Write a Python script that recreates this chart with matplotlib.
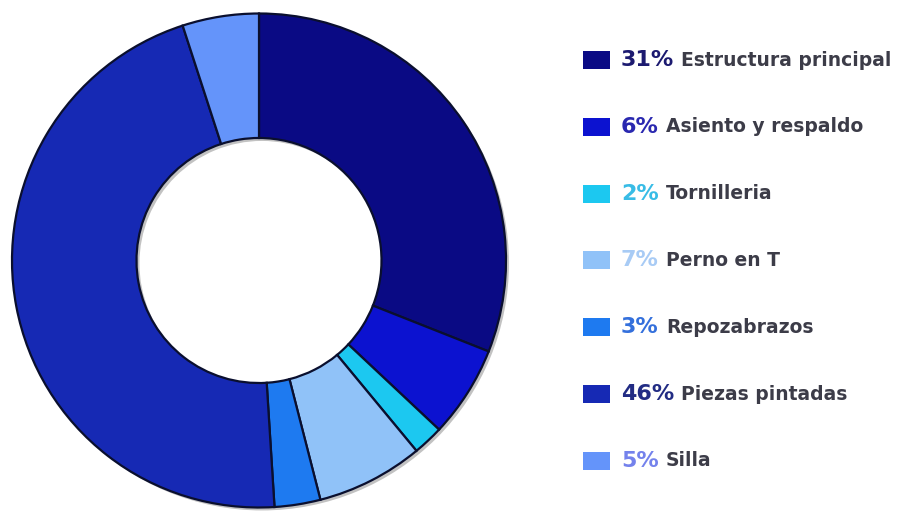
import matplotlib.pyplot as plt
import numpy as np
from matplotlib.patches import Rectangle

# chair component share, clockwise from the top
labels = ['Estructura principal', 'Asiento y respaldo', 'Tornilleria', 'Perno en T',
          'Repozabrazos', 'Piezas pintadas', 'Silla']
shares = [31, 6, 2, 7, 3, 46, 5]
colors = ['#0a0a84', '#0c12d0', '#1cc8f0', '#90c2f8', '#1e7af0', '#1629b4', '#6494fa']
pct_colors = ['#1c1a70', '#2a28b0', '#38bce6', '#a8cbf5', '#3470dc', '#222c84', '#7482ec']

W, H = 899, 514
fig = plt.figure(figsize=(W / 100, H / 100), dpi=100)
fig.patch.set_facecolor('white')

R = 247
ax = fig.add_axes([(259 - R) / W, (H - 260.5 - R) / H, 2 * R / W, 2 * R / H])
# soft grey shadow ring behind the donut
sh = ax.pie([1], radius=1.0, colors=['#9a9a9a'], startangle=90,
            wedgeprops=dict(width=0.504, linewidth=0), center=(0.012, -0.012))
for w in sh[0]:
    w.set_alpha(0.6)
ax.pie(shares, radius=1.0, colors=colors, startangle=90, counterclock=False,
       wedgeprops=dict(width=0.504, edgecolor='#0a0f2e', linewidth=1.6))
ax.set_xlim(-1.0, 1.0)
ax.set_ylim(-1.0, 1.0)
ax.set_aspect('equal')
ax.axis('off')

# legend drawn by hand: square, coloured percentage, grey label
y0, dy = 60, 66.8
for i, (lab, val) in enumerate(zip(labels, shares)):
    yc = y0 + i * dy
    fig.add_artist(Rectangle((583 / W, (H - yc - 9) / H), 27 / W, 18 / H,
                             transform=fig.transFigure, facecolor=colors[i],
                             edgecolor='none'))
    t = fig.text(621 / W, (H - yc) / H, f'{val}%', color=pct_colors[i],
                 fontsize=16, fontweight='bold', va='center', ha='left',
                 family='DejaVu Sans')
    fig.canvas.draw()
    bb = t.get_window_extent()
    fig.text((bb.x1 + 7) / W, (H - yc) / H, lab, color='#3c3c48',
             fontsize=13.5, fontweight='bold', va='center', ha='left',
             family='DejaVu Sans')

fig.savefig('out.png', dpi=100)
